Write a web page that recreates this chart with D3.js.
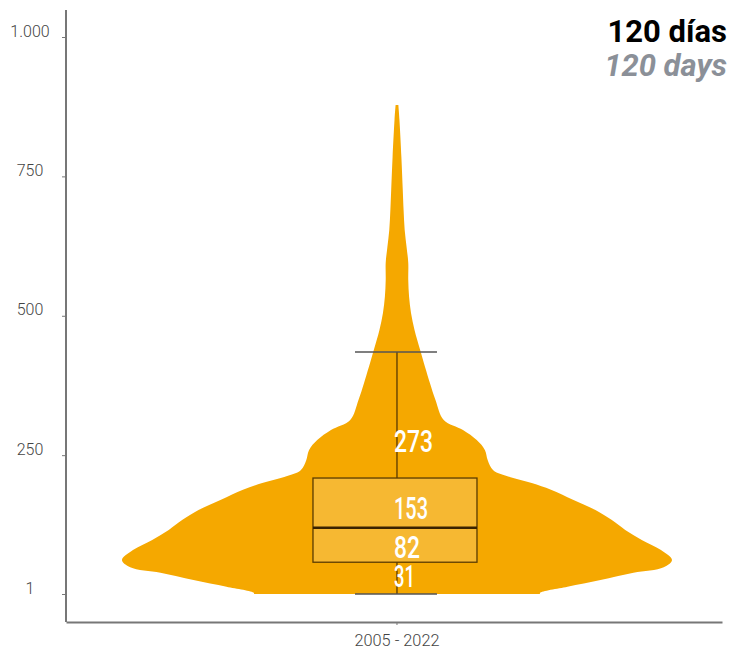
<!DOCTYPE html>
<meta charset="utf-8">
<style>

body {
  margin: 0;
  background: #fff;
  font-family: Roboto, "DejaVu Sans", sans-serif;
}

.axis path,
.axis line {
  stroke: #777;
}

.axis text {
  fill: #444;
  font-family: Roboto, sans-serif;
  font-weight: 300;
  font-size: 16px;
}

.label {
  fill: #fff;
  font-size: 31px;
  font-weight: 500;
}

.title {
  font-size: 31px;
  font-weight: bold;
}

</style>
<body>
<script src="https://cdn.jsdelivr.net/npm/d3@7"></script>
<script>

// category on the x axis
var categories = ["2005 - 2022"];

// y axis ticks and their labels (spanish thousands separator)
var yTicks = [1, 250, 500, 750, 1000],
    yTickLabels = ["1", "250", "500", "750", "1.000"];

// violin outline: days -> relative density (1 = widest point)
var violinDays =    [1,    3,    14,   26,   39,   49,   62,   80,   98,   116,  134,  152,  170,  188,  200,  211,  223,  241,  259,  277,  295,  313,  349,  379,  439,  474,  505,  534,  564,  595,  623,  654,  690,  726,  785,  851,  878];
var violinDensity = [0.52, 0.52, 0.62, 0.74, 0.86, 0.97, 1.00, 0.96, 0.89, 0.83, 0.78, 0.72, 0.64, 0.56, 0.49, 0.41, 0.35, 0.33, 0.32, 0.29, 0.24, 0.17, 0.14, 0.12, 0.084, 0.064, 0.051, 0.044, 0.041, 0.041, 0.035, 0.028, 0.024, 0.021, 0.016, 0.009, 0.005];

// box plot statistics
var whiskerLow = 1,
    q1 = 58,
    median = 120,
    q3 = 209,
    whiskerHigh = 435;

// numbers printed inside the violin
var labelValues = [273, 153, 82, 31];

var titleEs = "120 días",
    titleEn = "120 days";

var width = 730,
    height = 656,
    margin = {top: 10, right: 8, bottom: 34, left: 66};

var svg = d3.select("body").append("svg")
    .attr("width", width)
    .attr("height", height);

// one band, nudged a little right of the middle like the original
var x = d3.scaleBand()
    .domain(categories)
    .range([margin.left, width - margin.right])
    .paddingOuter(0.05)
    .align(0.55);

var y = d3.scaleLinear()
    .domain([1, 1000])
    .range([594, 37]);

// half width of the violin
var w = d3.scaleLinear()
    .domain([0, 1])
    .range([0, 275]);

var cx = x(categories[0]) + x.bandwidth() / 2;

// axes
svg.append("line")
    .attr("x1", margin.left).attr("x2", margin.left)
    .attr("y1", margin.top).attr("y2", height - margin.bottom)
    .attr("stroke", "#777")
    .attr("stroke-width", 2);

var yAxis = svg.append("g")
    .attr("class", "axis")
    .attr("transform", "translate(" + margin.left + ",0)")
    .call(d3.axisLeft(y)
      .tickValues(yTicks)
      .tickFormat(function(d, i) { return yTickLabels[i]; })
      .tickSize(4));
yAxis.select(".domain").remove();
yAxis.selectAll(".tick text")
    .attr("x", 30 - margin.left)
    .attr("dy", "-0.05em")
    .attr("text-anchor", "middle");

var xAxis = svg.append("g")
    .attr("class", "axis")
    .attr("transform", "translate(0," + (height - margin.bottom) + ")")
    .call(d3.axisBottom(x).tickSize(3).tickPadding(9).tickSizeOuter(0));
xAxis.select(".domain").attr("stroke-width", 2);
xAxis.selectAll(".tick text")
    .style("font-size", "17px")
    .attr("textLength", 85)
    .attr("lengthAdjust", "spacingAndGlyphs");

// violin
var violinData = violinDays.map(function(d, i) { return {v: d, dens: violinDensity[i]}; });

var area = d3.area()
    .curve(d3.curveCatmullRom)
    .y(function(d) { return y(d.v); })
    .x0(function(d) { return cx - w(d.dens); })
    .x1(function(d) { return cx + w(d.dens); });

svg.append("path")
    .datum(violinData)
    .attr("d", area)
    .attr("fill", "#f5a800");

// box plot
var boxHalf = 82;

svg.append("line")
    .attr("x1", cx).attr("x2", cx)
    .attr("y1", y(whiskerLow)).attr("y2", y(whiskerHigh))
    .attr("stroke", "#4b3000")
    .attr("stroke-width", 1.2);

svg.selectAll(".cap")
    .data([whiskerLow, whiskerHigh])
  .enter().append("line")
    .attr("class", "cap")
    .attr("x1", cx - 42).attr("x2", cx + 40)
    .attr("y1", function(d) { return y(d); })
    .attr("y2", function(d) { return y(d); })
    .attr("stroke", "#555")
    .attr("stroke-width", 1.5);

svg.append("rect")
    .attr("x", cx - boxHalf - 2)
    .attr("width", boxHalf * 2)
    .attr("y", y(q3))
    .attr("height", y(q1) - y(q3))
    .attr("fill", "#f6b832")
    .attr("stroke", "#5a3b00")
    .attr("stroke-width", 1.3);

svg.append("line")
    .attr("x1", cx - boxHalf - 2).attr("x2", cx + boxHalf - 2)
    .attr("y1", y(median)).attr("y2", y(median))
    .attr("stroke", "#3a2300")
    .attr("stroke-width", 2.5);

// value labels, squeezed to a condensed look
function labelWidth(d) {
  return String(d).split("").reduce(function(s, c) { return s + (c == "1" ? 8 : 13); }, 0);
}

svg.selectAll(".label")
    .data(labelValues)
  .enter().append("text")
    .attr("class", "label")
    .attr("x", cx - 3)
    .attr("y", function(d) { return y(d); })
    .attr("dy", "0.3em")
    .attr("textLength", labelWidth)
    .attr("lengthAdjust", "spacingAndGlyphs")
    .text(function(d) { return d; });

// titles
svg.append("text")
    .attr("class", "title")
    .attr("x", 727)
    .attr("y", 42)
    .attr("text-anchor", "end")
    .attr("fill", "#000")
    .text(titleEs);

svg.append("text")
    .attr("class", "title")
    .attr("x", 727)
    .attr("y", 76)
    .attr("text-anchor", "end")
    .style("font-style", "italic")
    .attr("fill", "#8b9098")
    .text(titleEn);

</script>
